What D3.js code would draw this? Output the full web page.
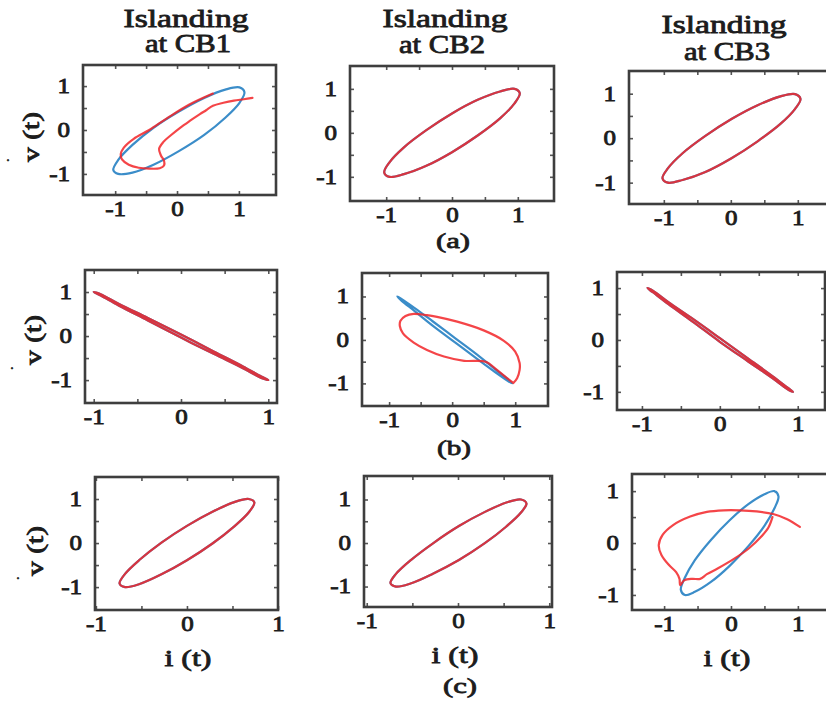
<!DOCTYPE html>
<html>
<head>
<meta charset="utf-8">
<script src="https://cdn.jsdelivr.net/npm/d3@7"></script>
<style>
  body { margin: 0; background: #fff; }
  svg text { font-family: "Liberation Serif", "Times New Roman", Times, serif; font-weight: normal; fill: #1c1c1c; stroke: #1c1c1c; stroke-width: 0.8px; }
</style>
</head>
<body>
<svg id="chart" width="826" height="704"></svg>
<script>
// ---------- labels ----------
const tickLabels = [-1, 0, 1];
const minorTicks = [-1, -0.5, 0, 0.5, 1];
const columnTitles = [["Islanding", "at CB1"], ["Islanding", "at CB2"], ["Islanding", "at CB3"]];
const rowCaptions = ["(a)", "(b)", "(c)"];
const yLabel = "v (t)";
const xLabel = "i (t)";

// ---------- v(t) against i(t) loci, [i, v] ----------
// row (a)
const a1Blue = [[1.09,0.86],[1.01,0.97],[0.78,0.92],[0.44,0.73],[0.03,0.42],[-0.38,0.05],[-0.72,-0.34],[-0.95,-0.68],[-1.03,-0.91],[-0.95,-1.0],[-0.72,-0.97],[-0.38,-0.79],[0.03,-0.48],[0.44,-0.11],[0.78,0.28],[1.01,0.62]];
const a1Red = [[1.22,0.73],[1.08,0.70],[0.92,0.67],[0.75,0.62],[0.58,0.55],[0.47,0.45],[0.37,0.36],[0.2,0.2],[0.05,0.05],[-0.1,-0.12],[-0.22,-0.27],[-0.29,-0.43],[-0.26,-0.58],[-0.21,-0.7],[-0.21,-0.81],[-0.28,-0.87],[-0.45,-0.88],[-0.62,-0.86],[-0.78,-0.79],[-0.89,-0.67],[-0.91,-0.55],[-0.86,-0.4],[-0.7,-0.2],[-0.45,0.0],[-0.17,0.26],[0.2,0.58],[0.58,0.83]];
const a2Loop = [[1.03,0.90],[0.95,1.0],[0.73,0.94],[0.39,0.75],[0,0.44],[-0.39,0.06],[-0.73,-0.33],[-0.95,-0.67],[-1.03,-0.90],[-0.95,-1.0],[-0.73,-0.94],[-0.39,-0.75],[0,-0.44],[0.39,-0.06],[0.73,0.33],[0.95,0.67]];
const a3Loop = [[1.04,0.88],[0.96,0.99],[0.74,0.94],[0.40,0.74],[0.01,0.43],[-0.38,0.05],[-0.72,-0.34],[-0.94,-0.68],[-1.02,-0.90],[-0.94,-1.0],[-0.72,-0.94],[-0.38,-0.76],[0.01,-0.45],[0.40,-0.07],[0.74,0.32],[0.96,0.66]];
// row (b)
const b1Loop = [[1,-1],[0.92,-0.95],[0.71,-0.73],[0.38,-0.41],[0,-0.035],[-0.38,0.355],[-0.71,0.69],[-0.92,0.92],[-1,1],[-0.92,0.95],[-0.71,0.73],[-0.38,0.41],[0,0.035],[0.38,-0.355],[0.71,-0.69],[0.92,-0.92]];
const b2Blue = [[0.95,-1.0],[0.88,-0.94],[0.68,-0.74],[0.39,-0.43],[0.04,-0.05],[-0.31,0.33],[-0.6,0.67],[-0.8,0.9],[-0.87,1.0],[-0.8,0.94],[-0.6,0.74],[-0.31,0.43],[0.04,0.05],[0.39,-0.33],[0.68,-0.67],[0.88,-0.9]];
const b2Red = [[0.97,-0.99],[1.03,-0.88],[1.07,-0.69],[1.07,-0.53],[1.0,-0.27],[0.82,-0.02],[0.5,0.22],[0.08,0.42],[-0.24,0.53],[-0.4,0.57],[-0.61,0.6],[-0.74,0.55],[-0.82,0.44],[-0.83,0.32],[-0.78,0.15],[-0.61,-0.06],[-0.4,-0.23],[-0.13,-0.38],[0.19,-0.48],[0.53,-0.5],[0.71,-0.69],[0.87,-0.88],[0.97,-0.99]];
const b3Loop = [[0.94,-1],[0.87,-0.95],[0.67,-0.73],[0.36,-0.41],[0,-0.035],[-0.35,0.355],[-0.66,0.69],[-0.86,0.92],[-0.93,1],[-0.86,0.95],[-0.66,0.73],[-0.35,0.41],[0,0.035],[0.36,-0.355],[0.67,-0.69],[0.87,-0.92]];
// row (c)
const c1Loop = [[0.74,0.92],[0.68,1.0],[0.52,0.93],[0.28,0.71],[0,0.39],[-0.28,0.01],[-0.52,-0.38],[-0.68,-0.7],[-0.74,-0.92],[-0.68,-1.0],[-0.52,-0.93],[-0.28,-0.71],[0,-0.39],[0.28,-0.01],[0.52,0.38],[0.68,0.7]];
const c2Loop = [[0.75,0.91],[0.69,1.0],[0.53,0.93],[0.29,0.71],[0.01,0.39],[-0.27,0.0],[-0.51,-0.38],[-0.68,-0.71],[-0.74,-0.92],[-0.68,-1.0],[-0.52,-0.93],[-0.28,-0.71],[0.01,-0.39],[0.29,-0.01],[0.53,0.38],[0.69,0.7]];
const c3Blue = [[0.71,0.9],[0.65,1.0],[0.5,0.94],[0.26,0.75],[-0.02,0.44],[-0.3,0.06],[-0.54,-0.33],[-0.69,-0.67],[-0.75,-0.9],[-0.69,-1.0],[-0.54,-0.94],[-0.3,-0.75],[-0.02,-0.44],[0.26,-0.06],[0.5,0.33],[0.65,0.67]];
const c3Red = [[1.03,0.31],[0.84,0.46],[0.63,0.56],[0.38,0.61],[0.13,0.63],[-0.11,0.63],[-0.36,0.6],[-0.61,0.51],[-0.86,0.35],[-1.02,0.16],[-1.08,-0.04],[-1.04,-0.23],[-0.93,-0.42],[-0.82,-0.56],[-0.77,-0.69],[-0.76,-0.81],[-0.7,-0.72],[-0.58,-0.69],[-0.46,-0.69],[-0.36,-0.6],[-0.2,-0.49],[0.05,-0.3],[0.27,-0.1],[0.45,0.12],[0.56,0.3],[0.62,0.5]];

// ---------- layout ----------
const BLUE = "#3b8dc9", RED = "#f22528";
const panels = [
  { box: [83, 65, 276, 195],  xDom: [-1.52, 1.6],  yDom: [-1.48, 1.48], blue: a1Blue, red: a1Red, redClosed: false },
  { box: [350, 66, 554, 201], xDom: [-1.55, 1.55], yDom: [-1.55, 1.52], blue: a2Loop, red: a2Loop, redClosed: true },
  { box: [629, 71, 840, 204], xDom: [-1.52, 1.63], yDom: [-1.48, 1.51], blue: a3Loop, red: a3Loop, redClosed: true },
  { box: [85, 270, 277, 403], xDom: [-1.1, 1.1],   yDom: [-1.52, 1.5],  blue: b1Loop, red: b1Loop, redClosed: true },
  { box: [362, 273, 548, 406], xDom: [-1.43, 1.52], yDom: [-1.52, 1.54], blue: b2Blue, red: b2Red, redClosed: false },
  { box: [617, 272, 825, 410], xDom: [-1.32, 1.35], yDom: [-1.35, 1.31], blue: b3Loop, red: b3Loop, redClosed: true },
  { box: [95, 477, 278, 610],  xDom: [-1.01, 1.0],  yDom: [-1.52, 1.5],  blue: c1Loop, red: c1Loop, redClosed: true },
  { box: [364, 476, 552, 607], xDom: [-1.03, 1.03], yDom: [-1.47, 1.54], blue: c2Loop, red: c2Loop, redClosed: true },
  { box: [632, 474, 840, 610], xDom: [-1.48, 1.63], yDom: [-1.29, 1.33], blue: c3Blue, red: c3Red, redClosed: false }
];

const svg = d3.select("#chart");
const fmt = d => (d < 0 ? "-" : "") + Math.abs(d);
const SX = 1.25; // wide type of the figure

panels.forEach(p => {
  const [L, T, R, B] = p.box;
  const x = d3.scaleLinear().domain(p.xDom).range([L, R]);
  const y = d3.scaleLinear().domain(p.yDom).range([B, T]);
  const g = svg.append("g");

  // inward tick marks on all four sides
  const tk = 4;
  g.append("g").attr("transform", `translate(0,${B})`).call(d3.axisBottom(x).tickValues(minorTicks).tickSize(-tk).tickFormat(""));
  g.append("g").attr("transform", `translate(0,${T})`).call(d3.axisTop(x).tickValues(minorTicks).tickSize(-tk).tickFormat(""));
  g.append("g").attr("transform", `translate(${L},0)`).call(d3.axisLeft(y).tickValues(minorTicks).tickSize(-tk).tickFormat(""));
  g.append("g").attr("transform", `translate(${R},0)`).call(d3.axisRight(y).tickValues(minorTicks).tickSize(-tk).tickFormat(""));
  g.selectAll(".domain").remove();
  g.selectAll(".tick line").attr("stroke", "#555").attr("stroke-width", 1.6);

  // value labels
  const xl = g.append("g").attr("transform", `translate(0,${B})`)
    .call(d3.axisBottom(x).tickValues(tickLabels).tickSize(0).tickPadding(7).tickFormat(fmt));
  const yl = g.append("g").attr("transform", `translate(${L},0)`)
    .call(d3.axisLeft(y).tickValues(tickLabels).tickSize(0).tickFormat(fmt));
  [xl, yl].forEach(a => {
    a.attr("font-family", null).attr("font-size", null);
    a.select(".domain").remove();
    a.selectAll("text").attr("font-size", 20).attr("fill", "#1c1c1c");
  });
  xl.selectAll("text").attr("transform", `scale(${SX},1)`);
  yl.selectAll("text").attr("x", -13 / SX).attr("transform", `scale(${SX},1)`);

  // loci
  const clip = "clip" + L + "_" + T;
  svg.append("clipPath").attr("id", clip).append("rect").attr("x", L).attr("y", T).attr("width", R - L).attr("height", B - T);
  const lineClosed = d3.line().x(d => x(d[0])).y(d => y(d[1])).curve(d3.curveCatmullRomClosed.alpha(0.5));
  const lineOpen = d3.line().x(d => x(d[0])).y(d => y(d[1])).curve(d3.curveCatmullRom.alpha(0.5));
  const lg = g.append("g").attr("clip-path", `url(#${clip})`).attr("fill", "none").attr("stroke-width", 2.2)
    .attr("stroke-linejoin", "round").attr("stroke-linecap", "round");
  lg.append("path").attr("d", lineClosed(p.blue)).attr("stroke", BLUE);
  lg.append("path").attr("d", (p.redClosed ? lineClosed : lineOpen)(p.red)).attr("stroke", RED).attr("stroke-opacity", 0.85);

  // frame
  g.append("rect").attr("x", L).attr("y", T).attr("width", R - L).attr("height", B - T)
    .attr("fill", "none").attr("stroke", "#3e3e3e").attr("stroke-width", 2.6);
});

// column titles
const titlePos = [[186, 27, 188, 52], [445, 27, 442, 53], [724, 33, 727, 60]];
columnTitles.forEach((t, i) => {
  const [x1, y1, x2, y2] = titlePos[i];
  svg.append("text").attr("x", x1).attr("y", y1).attr("text-anchor", "middle").attr("font-size", 25)
    .attr("textLength", 125).attr("lengthAdjust", "spacingAndGlyphs").text(t[0]);
  svg.append("text").attr("x", x2).attr("y", y2).attr("text-anchor", "middle").attr("font-size", 25)
    .attr("textLength", 86).attr("lengthAdjust", "spacingAndGlyphs").text(t[1]);
});

// row captions
const capPos = [[453, 248], [454, 455], [460, 693]];
rowCaptions.forEach((c, i) => {
  svg.append("text").attr("x", capPos[i][0]).attr("y", capPos[i][1]).attr("text-anchor", "middle")
    .attr("font-size", 22).attr("textLength", 34).attr("lengthAdjust", "spacingAndGlyphs").text(c);
});

// axis titles
const vPos = [[39, 137], [41, 340], [43, 551]];
vPos.forEach(([x0, y0]) => {
  svg.append("text").attr("transform", `translate(${x0},${y0}) rotate(-90)`).attr("text-anchor", "middle")
    .attr("font-size", 23).attr("textLength", 50).attr("lengthAdjust", "spacingAndGlyphs").text(yLabel);
});
const dotPos = [[8, 161], [12, 369], [18, 579]];
dotPos.forEach(([x0, y0]) => {
  svg.append("text").attr("x", x0).attr("y", y0).attr("text-anchor", "middle").attr("font-size", 12).text(".");
});
const iPos = [[188, 666], [455, 663], [727, 666]];
iPos.forEach(([x0, y0]) => {
  svg.append("text").attr("x", x0).attr("y", y0).attr("text-anchor", "middle")
    .attr("font-size", 23).attr("textLength", 47).attr("lengthAdjust", "spacingAndGlyphs").text(xLabel);
});
</script>
</body>
</html>
